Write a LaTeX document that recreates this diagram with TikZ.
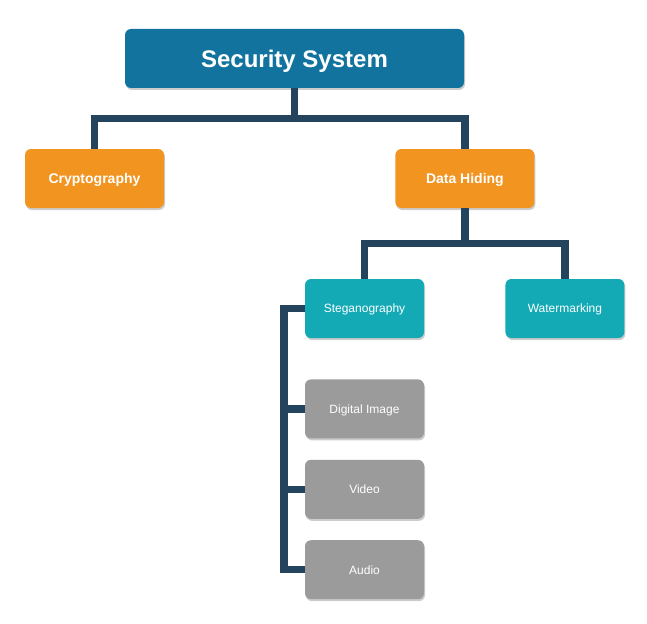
\documentclass[tikz,border=0pt]{standalone}
\usepackage{fontspec}
\setmainfont{Liberation Sans}
\usetikzlibrary{positioning,shadows,calc}
\definecolor{cTop}{RGB}{18,115,158}
\definecolor{cOrange}{RGB}{242,148,32}
\definecolor{cTeal}{RGB}{19,170,182}
\definecolor{cGray}{RGB}{155,155,155}
\definecolor{cLine}{RGB}{36,68,94}
\tikzset{
  box/.style={rectangle,rounded corners=6pt,text=white,inner sep=0pt,text depth=0pt,
    drop shadow={shadow xshift=1pt,shadow yshift=-2pt,fill=black,opacity=.2}},
  toplvl/.style={box,fill=cTop,minimum width=339pt,minimum height=59pt,font=\bfseries\fontsize{24}{28}\selectfont},
  midlvl/.style={box,fill=cOrange,minimum width=139pt,minimum height=59pt,font=\bfseries\fontsize{14}{17}\selectfont},
  sublvl/.style={box,fill=cTeal,minimum width=119pt,minimum height=59pt,font=\fontsize{12}{14}\selectfont},
  medlvl/.style={box,fill=cGray,minimum width=119pt,minimum height=59pt,font=\fontsize{12}{14}\selectfont},
  conn/.style={draw=cLine,line width=7.5pt}
}
\begin{document}
\begin{tikzpicture}[x=1pt,y=-1pt]
\useasboundingbox[fill=white] (0,0) rectangle (647,623);
\node[toplvl](NSS) at (294.5,58.5){Security System};
\node[midlvl](NCR) at (94.5,178.5){Cryptography};
\node[midlvl,right=231pt of NCR](NDH){Data Hiding};
\node[sublvl](NST) at (364.5,308.5){Steganography};
\node[sublvl,right=81pt of NST](NWM){Watermarking};
\node[medlvl,below=41pt of NST](NDI){Digital Image};
\node[medlvl,below=21pt of NDI](NVI){Video};
\node[medlvl,below=21pt of NVI](NAU){Audio};
% tree lines
\coordinate(J1) at ($(NSS.south)!.5!(NSS.south |- NCR.north)$);
\coordinate(J2) at ($(NDH.south)!.5!(NDH.south |- NST.north)$);
\coordinate(J3) at ([xshift=-21pt]NST.west);
\draw[conn] (NSS.south) -- (J1);
\draw[conn] (NCR.north) |- (J1) -| (NDH.north);
\draw[conn] (NDH.south) -- (J2);
\draw[conn] (NST.north) |- (J2) -| (NWM.north);
\draw[conn] (NST.west) -- (J3) |- (NAU.west);
\draw[conn] (J3 |- NDI.west) -- (NDI.west);
\draw[conn] (J3 |- NVI.west) -- (NVI.west);
\end{tikzpicture}
\end{document}
